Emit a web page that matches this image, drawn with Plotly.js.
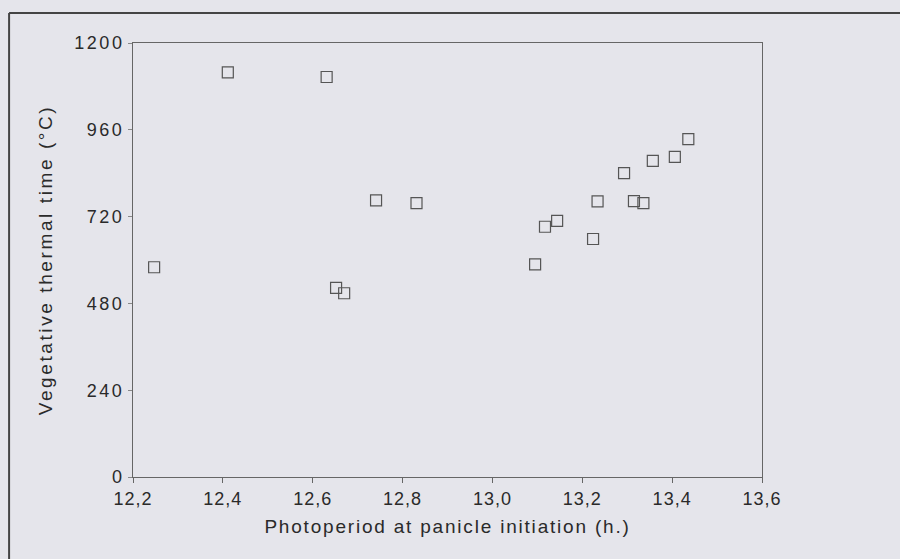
<!DOCTYPE html>
<html>
<head>
<meta charset="utf-8">
<script src="https://cdn.plot.ly/plotly-3.0.1.min.js"></script>
<style>
html,body{margin:0;padding:0;background:#e5e5eb;}
#chart{width:900px;height:559px;}
#chart .ytick text{letter-spacing:2.5px;}
#chart .xtick text{letter-spacing:1px;}
#chart .g-ytitle text{letter-spacing:2.6px;}
#chart .g-xtitle text{letter-spacing:1.8px;}
</style>
</head>
<body>
<div id="chart"></div>
<script>
// Photoperiod at panicle initiation (h.)
var photoperiod = [12.247, 12.411, 12.631, 12.652, 12.670, 12.741, 12.831, 13.095, 13.117, 13.144, 13.224, 13.234, 13.293, 13.315, 13.336, 13.357, 13.406, 13.436];
// Vegetative thermal time (°C)
var thermalTime = [580, 1119, 1106, 523, 508, 765, 757, 588, 692, 708, 658, 762, 840, 763, 757, 874, 885, 934];
var xTickVals = [12.2, 12.4, 12.6, 12.8, 13.0, 13.2, 13.4, 13.6];
var xTickText = ['12,2', '12,4', '12,6', '12,8', '13,0', '13,2', '13,4', '13,6'];
var yTickVals = [0, 240, 480, 720, 960, 1200];

var trace = {
  x: photoperiod, y: thermalTime, type: 'scatter', mode: 'markers',
  marker: {symbol: 'square-open', size: 11, color: '#555', line: {width: 1.2, color: '#555'}},
  hoverinfo: 'x+y', showlegend: false
};

var layout = {
  width: 900, height: 559,
  margin: {l: 133, r: 138, t: 43, b: 82},
  paper_bgcolor: '#e5e5eb', plot_bgcolor: '#e5e5eb',
  font: {family: 'Liberation Sans, Arial, sans-serif', color: '#2a2a2a'},
  xaxis: {
    range: [12.2, 13.6], tickvals: xTickVals, ticktext: xTickText,
    showgrid: false, zeroline: false, showline: true, linecolor: '#666', linewidth: 1, mirror: true,
    ticks: 'outside', ticklen: 5, tickcolor: '#666',
    tickfont: {family: 'Liberation Sans, Arial, sans-serif', size: 18, color: '#2a2a2a'},
    title: {text: 'Photoperiod at panicle initiation (h.)', standoff: 12,
      font: {family: 'Liberation Sans, Arial, sans-serif', size: 19, color: '#2a2a2a'}}
  },
  yaxis: {
    range: [0, 1200], tickvals: yTickVals,
    showgrid: false, zeroline: false, showline: true, linecolor: '#666', linewidth: 1, mirror: true,
    ticks: 'outside', ticklen: 4, tickcolor: '#888',
    tickfont: {family: 'Liberation Sans, Arial, sans-serif', size: 18, color: '#2a2a2a'},
    title: {text: 'Vegetative thermal time (°C)', standoff: 26,
      font: {family: 'Liberation Sans, Arial, sans-serif', size: 19, color: '#2a2a2a'}}
  },
  shapes: [
    {type: 'line', xref: 'paper', yref: 'paper', x0: -0.197, x1: 1.22, y0: 1.069, y1: 1.069, line: {color: '#444', width: 2}},
    {type: 'line', xref: 'paper', yref: 'paper', x0: -0.197, x1: -0.197, y0: 1.069, y1: -0.19, line: {color: '#444', width: 2}}
  ]
};

Plotly.newPlot('chart', [trace], layout, {displayModeBar: false, staticPlot: true});
</script>
</body>
</html>
